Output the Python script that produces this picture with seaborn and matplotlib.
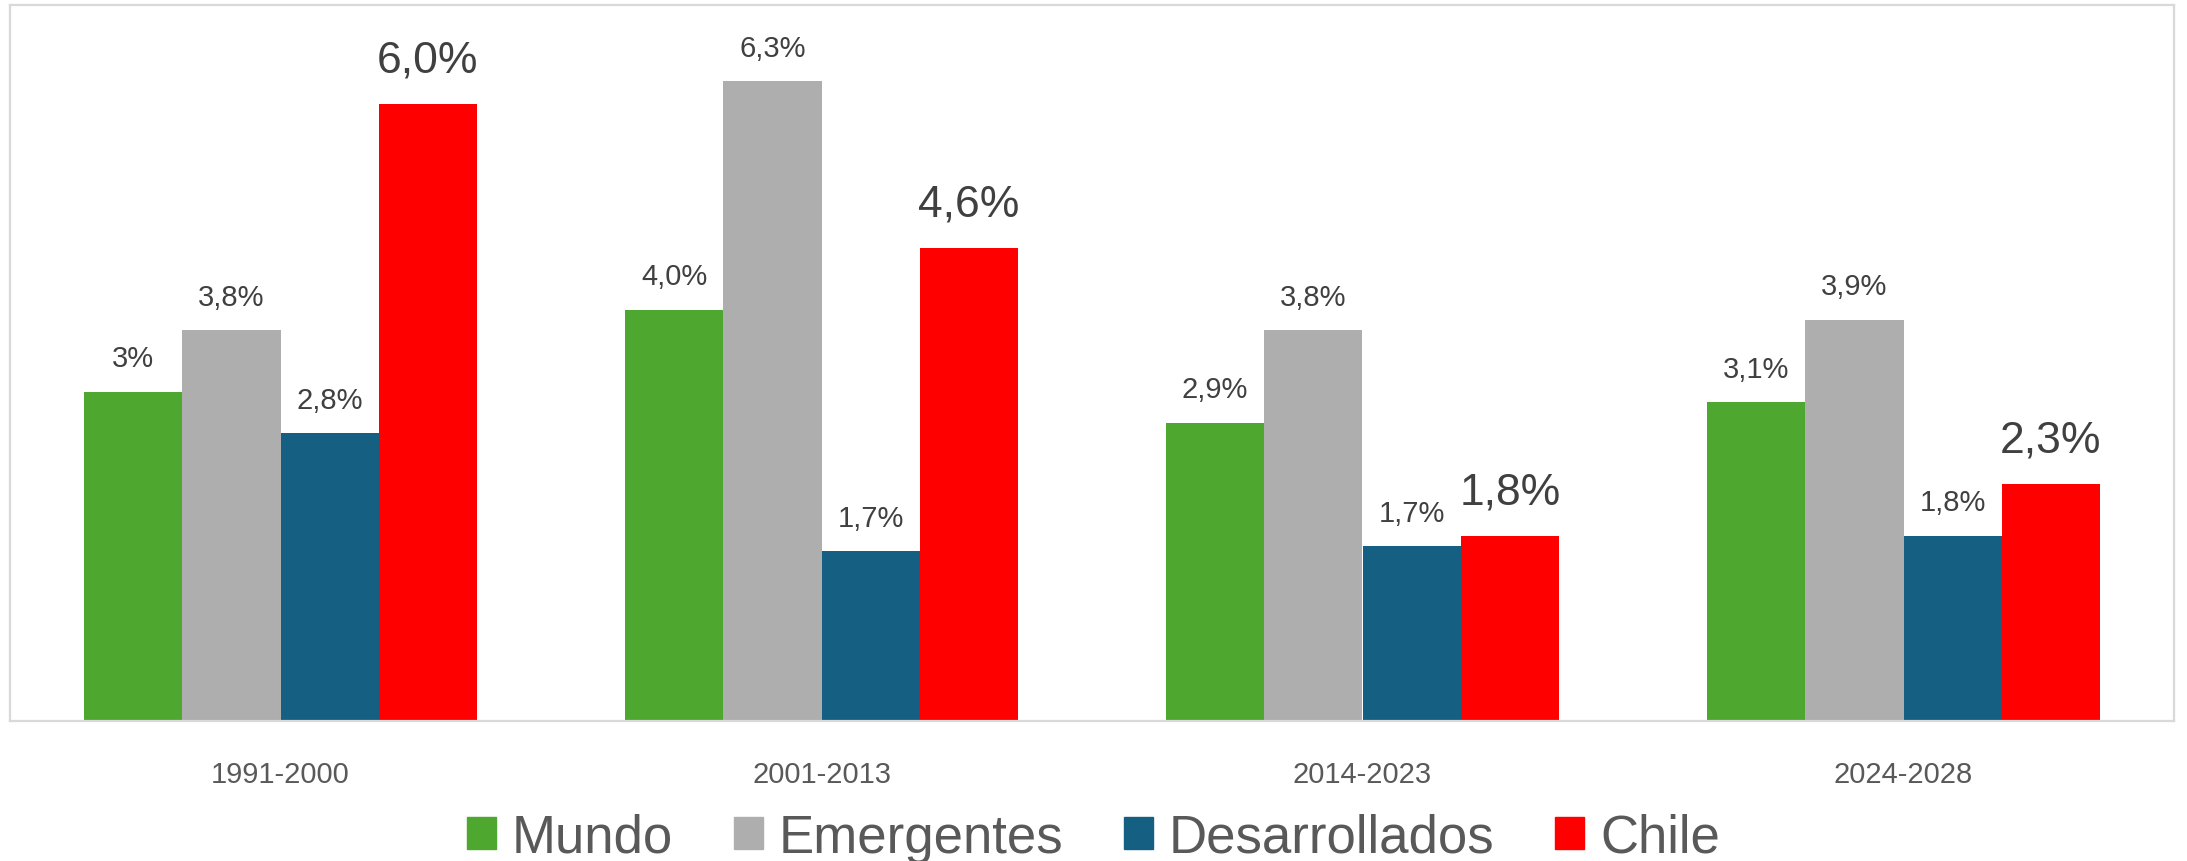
import pandas as pd
import seaborn as sns
import matplotlib.pyplot as plt

# datos del gráfico
periodos = ["1991-2000", "2001-2013", "2014-2023", "2024-2028"]
series = ["Mundo", "Emergentes", "Desarrollados", "Chile"]
mundo = [3.2, 4.0, 2.9, 3.1]
emergentes = [3.8, 6.22, 3.8, 3.9]
desarrollados = [2.8, 1.65, 1.7, 1.8]
chile = [6.0, 4.6, 1.8, 2.3]
etiquetas = {
    "Mundo": ["3%", "4,0%", "2,9%", "3,1%"],
    "Emergentes": ["3,8%", "6,3%", "3,8%", "3,9%"],
    "Desarrollados": ["2,8%", "1,7%", "1,7%", "1,8%"],
    "Chile": ["6,0%", "4,6%", "1,8%", "2,3%"],
}
colores = ["#4EA72E", "#AEAEAE", "#156082", "#FF0000"]

df = pd.DataFrame({
    "Periodo": periodos * 4,
    "Serie": [s for s in series for _ in periodos],
    "Valor": mundo + emergentes + desarrollados + chile,
})

sns.set_style("white")
plt.rcParams["font.family"] = ["Liberation Sans", "DejaVu Sans"]

fig = plt.figure(figsize=(21.87, 8.62), dpi=100)
ax = fig.add_axes([10 / 2187, 1 - 722 / 862, 2164 / 2187, 716 / 862])

sns.barplot(data=df, x="Periodo", y="Valor", hue="Serie", order=periodos,
            hue_order=series, palette=colores, width=0.727, gap=0,
            linewidth=0, saturation=1, ax=ax, legend=False)

ax.set_xlim(-0.5, 3.5)
ax.set_ylim(0, 6.96)
ax.set_yticks([])
ax.set_xlabel("")
ax.set_ylabel("")
ax.tick_params(axis="x", length=0, pad=28, labelsize=21, labelcolor="#595959")
for sp in ax.spines.values():
    sp.set_visible(True)
    sp.set_color("#D9D9D9")
    sp.set_linewidth(1.6)

# etiquetas de datos
for serie, cont in zip(series, ax.containers):
    grande = serie == "Chile"
    for bar, txt in zip(cont, etiquetas[serie]):
        ax.annotate(txt, (bar.get_x() + bar.get_width() / 2, bar.get_height()),
                    xytext=(0, 17 if grande else 14), textcoords="offset points",
                    ha="center", va="bottom", color="#404040",
                    fontsize=32 if grande else 21)

handles = [plt.Rectangle((0, 0), 1, 1, color=c) for c in colores]
fig.legend(handles, series, loc="center", bbox_to_anchor=(0.5, 1 - 839 / 862),
           ncol=4, frameon=False, fontsize=38, labelcolor="#595959",
           handlelength=0.55, handleheight=0.55, handletextpad=0.3,
           columnspacing=1.15)

plt.savefig("out.png", dpi=100)
